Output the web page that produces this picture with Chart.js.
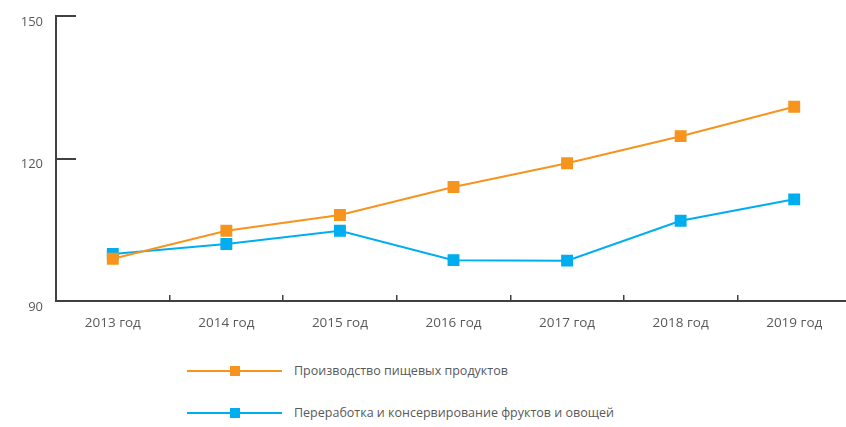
<!DOCTYPE html>
<html>
<head>
<meta charset="utf-8">
<script src="https://cdn.jsdelivr.net/npm/chart.js@4/dist/chart.umd.min.js"></script>
<style>
  html, body { margin: 0; padding: 0; background: #fff; overflow: hidden; width: 846px; height: 427px; }
  #wrap { position: absolute; left: 0; top: 0; width: 860px; height: 340px; }
  #legend { position: absolute; left: 187px; top: 360px; font-family: "Open Sans", "Noto Sans", sans-serif; font-size: 12.5px; color: #595959; }
  .row { position: relative; height: 42px; }
  .line { position: absolute; left: 0; top: 10px; width: 95px; height: 2px; }
  .mark { position: absolute; left: 43px; top: 6px; width: 10px; height: 10px; }
  .lbl { position: absolute; left: 107px; top: 0px; white-space: nowrap; line-height: 22px; }
</style>
</head>
<body>
<div id="wrap"><canvas id="c" width="860" height="340"></canvas></div>
<div id="legend"></div>
<script>
const categories = ["2013 год", "2014 год", "2015 год", "2016 год", "2017 год", "2018 год", "2019 год"];
const foodProduction = [98.9, 104.8, 108.1, 114.0, 119.0, 124.7, 130.9];
const fruitVegProcessing = [99.9, 102.0, 104.8, 98.6, 98.5, 106.9, 111.4];
const seriesNames = ["Производство пищевых продуктов", "Переработка и консервирование фруктов и овощей"];
const seriesColors = ["#F7941D", "#00AEEF"];
const yTicks = [90, 120, 150];

const seriesData = [foodProduction, fruitVegProcessing];
const datasets = seriesData.map((d, i) => ({
  label: seriesNames[i],
  data: d,
  borderColor: seriesColors[i],
  backgroundColor: seriesColors[i],
  borderWidth: 2,
  pointStyle: 'rect',
  pointRadius: 7,
  pointHoverRadius: 7,
  tension: 0
}));

// HTML legend built from the series arrays
const legend = document.getElementById('legend');
seriesNames.forEach((name, i) => {
  const row = document.createElement('div'); row.className = 'row';
  const ln = document.createElement('div'); ln.className = 'line'; ln.style.background = seriesColors[i];
  const mk = document.createElement('div'); mk.className = 'mark'; mk.style.background = seriesColors[i];
  const lb = document.createElement('div'); lb.className = 'lbl'; lb.textContent = name;
  row.appendChild(ln); row.appendChild(mk); row.appendChild(lb);
  legend.appendChild(row);
});

function zeroPad(s) { s.paddingTop = 0; s.paddingBottom = 0; s.paddingLeft = 0; s.paddingRight = 0; }

const fam = "'Open Sans', 'Noto Sans', sans-serif";
new Chart(document.getElementById('c'), {
  type: 'line',
  data: { labels: categories, datasets: datasets },
  options: {
    responsive: false,
    animation: false,
    devicePixelRatio: 1,
    layout: { padding: { top: 16, left: 0, right: 0, bottom: 0 } },
    plugins: { legend: { display: false }, tooltip: { enabled: false } },
    scales: {
      x: {
        type: 'category',
        offset: true,
        grid: { offset: true, drawOnChartArea: false, tickLength: -6, color: '#404040', lineWidth: 1.5 },
        border: { display: true, color: '#404040', width: 2 },
        ticks: { color: '#595959', font: { family: fam, size: 13.5 }, padding: 20, maxRotation: 0, autoSkip: false },
        afterFit: (s) => { s.height = 39; zeroPad(s); }
      },
      y: {
        min: yTicks[0],
        max: yTicks[yTicks.length - 1],
        afterBuildTicks: (s) => { s.ticks = yTicks.map(v => ({ value: v })); },
        grid: { drawOnChartArea: false, tickLength: -20, color: '#404040', lineWidth: 2 },
        border: { display: true, color: '#404040', width: 2 },
        ticks: { color: '#595959', font: { family: fam, size: 13 }, padding: 33, labelOffset: 6 },
        afterFit: (s) => { s.width = 56; zeroPad(s); }
      }
    }
  }
});
</script>
</body>
</html>
